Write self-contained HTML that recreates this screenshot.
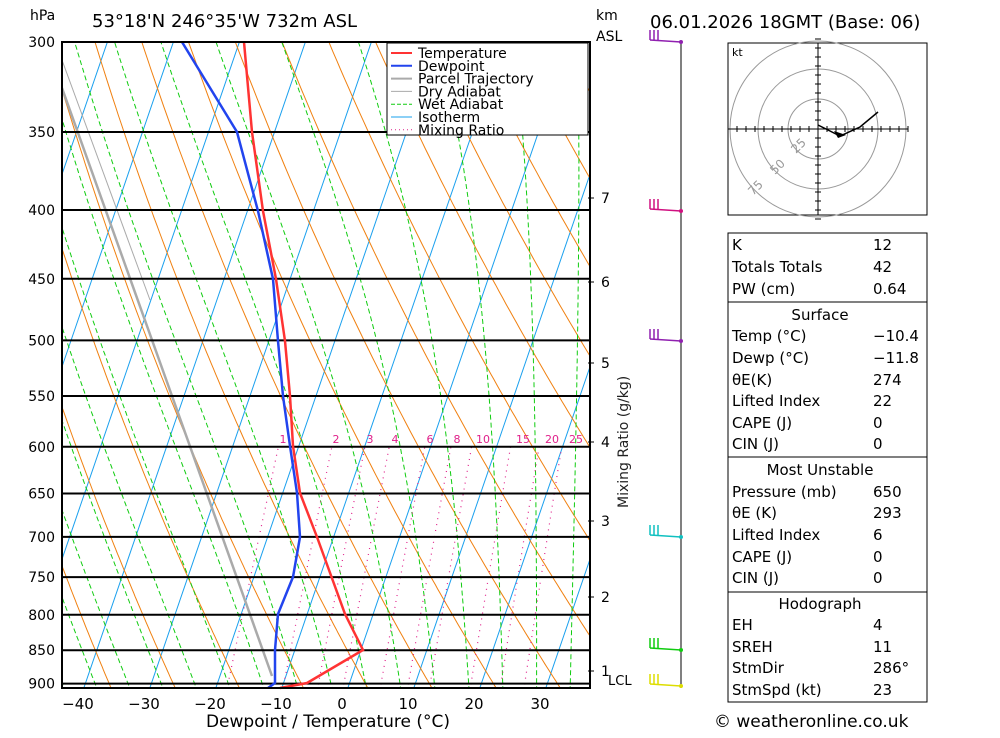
<!DOCTYPE html>
<html><head><meta charset="utf-8"><style>
body{margin:0;background:#fff;font-family:"Liberation Sans",sans-serif}
svg text{font-family:"DejaVu Sans","Liberation Sans",sans-serif}
</style></head><body>
<svg id="s" width="1000" height="733" xmlns="http://www.w3.org/2000/svg">
<defs><clipPath id="c"><rect x="62" y="42" width="528" height="646"/></clipPath></defs>
<g id="bg" clip-path="url(#c)"></g>
<g id="fg"></g>
</svg>
<script>
const NS="http://www.w3.org/2000/svg";
const bg=document.getElementById('bg'),fg=document.getElementById('fg');
function el(p,tag,a,t){const e=document.createElementNS(NS,tag);for(const k in a)e.setAttribute(k,a[k]);if(t!=null)e.textContent=t;p.appendChild(e);return e;}
const Y=p=>42+584*Math.log(p/300);
const X=(T,p)=>342+6.6*T+0.343*(705-Y(p));
function poly(g,pts,st){el(g,'polyline',Object.assign({points:pts.map(q=>q[0].toFixed(1)+','+q[1].toFixed(1)).join(' '),fill:'none'},st));}
const ps=[];for(let p=950;p>=290;p-=5)ps.push(p);
// isotherms
for(let T=-120;T<=50;T+=10)poly(bg,[[X(T,960),Y(960)],[X(T,280),Y(280)]],{stroke:'#1aa0ee','stroke-width':1});
// dry adiabats
for(let th=194;th<=500;th+=10){poly(bg,ps.map(p=>{const T=th*Math.pow(p/1000,0.286)-273.15;return[X(T,p),Y(p)]}),{stroke:'#f08010','stroke-width':1});}
// moist adiabats
function es(T){return 6.112*Math.exp(17.67*T/(T+243.5));}
for(let T0=-45;T0<=45;T0+=5){let T=T0+273.15,p=950;const pts=[];
 while(p>=290){pts.push([X(T-273.15,p),Y(p)]);const rs=0.622*es(T-273.15)/(p-es(T-273.15));
 const dTdp=(287*T+2.5e6*rs)/(1004+2.5e6*2.5e6*rs*0.622/(287*T*T))/p;T-=dTdp*2;p-=2;}
 poly(bg,pts,{stroke:'#10cc10','stroke-width':1,'stroke-dasharray':'5,3'});}
// mixing ratio
[1,2,3,4,6,8,10,15,20,25].forEach(w=>{const pts=[];for(let p=920;p>=600;p-=10){const e=w*p/(622+w);const l=Math.log(e/6.112);const T=243.5*l/(17.67-l);pts.push([X(T,p),Y(p)]);}
 poly(bg,pts,{stroke:'#e0208a','stroke-width':1.2,'stroke-dasharray':'1,5'});});
// isobars
[300,350,400,450,500,550,600,650,700,750,800,850,900].forEach(p=>{el(fg,'line',{x1:62,x2:590,y1:Y(p),y2:Y(p),stroke:'#000','stroke-width':2});
 el(fg,'text',{x:55,y:Y(p)+5,'text-anchor':'end','font-size':14},p);});
// parcel
poly(bg,[[272,676],[62,88]],{stroke:'#aaa','stroke-width':2.5});
poly(bg,[[62,60],[150,300]],{stroke:'#aaa','stroke-width':1});
// dewpoint & temp
poly(fg,[[268,688],[275,683],[275,650],[278,614],[293,577],[300,537],[297,493],[290,446],[283,396],[278,341],[273,279],[258,211],[237,132],[182,42]],{stroke:'#2244ee','stroke-width':2.5});
poly(fg,[[280,688],[307,683],[363,650],[345,614],[317,537],[300,493],[293,446],[290,396],[285,341],[276,279],[263,211],[252,132],[244,42]],{stroke:'#ff3333','stroke-width':2.5});
// mixing labels
[[1,283],[2,336],[3,370],[4,395],[6,430],[8,457],[10,483],[15,523],[20,552],[25,576]].forEach(a=>el(fg,'text',{x:a[1],y:443,'text-anchor':'middle','font-size':11,fill:'#e0208a'},a[0]));
// frame
el(fg,'rect',{x:62,y:42,width:528,height:646,fill:'none',stroke:'#000','stroke-width':2});
// x labels
for(let T=-40;T<=30;T+=10){el(fg,'text',{x:342+6.6*T,y:709,'text-anchor':'middle','font-size':15},(T<0?'\u2212'+(-T):T));}
el(fg,'text',{x:328,y:727,'text-anchor':'middle','font-size':17},'Dewpoint / Temperature (°C)');
el(fg,'text',{x:30,y:20,'font-size':14},'hPa');
el(fg,'text',{x:92,y:27,'font-size':18},'53°18\'N 246°35\'W 732m ASL');
el(fg,'text',{x:596,y:20,'font-size':14},'km');
el(fg,'text',{x:596,y:41,'font-size':14},'ASL');
el(fg,'text',{x:650,y:28,'font-size':18},'06.01.2026 18GMT (Base: 06)');
[[7,203],[6,287],[5,368],[4,447],[3,526],[2,602],[1,676]].forEach(a=>{el(fg,'text',{x:601,y:a[1],'font-size':14},a[0]);el(fg,'line',{x1:588,x2:594,y1:a[1]-5,y2:a[1]-5,stroke:'#000'});});
el(fg,'text',{x:608,y:685,'font-size':13},'LCL');
el(fg,'text',{x:0,y:0,'font-size':14,fill:'#222',transform:'translate(628,508) rotate(-90)'},'Mixing Ratio (g/kg)');
// legend
el(fg,'rect',{x:387,y:43,width:201,height:92,fill:'#fff',stroke:'#000'});
[['Temperature','#ff3333',2],['Dewpoint','#2244ee',2],['Parcel Trajectory','#aaa',2],['Dry Adiabat','#aaa',1],['Wet Adiabat','#10cc10',1],['Isotherm','#1aa0ee',1],['Mixing Ratio','#e0208a',1]].forEach((a,i)=>{const y=53+12.8*i;
 el(fg,'line',{x1:391,x2:412,y1:y,y2:y,stroke:a[1],'stroke-width':a[2],'stroke-dasharray':i==4?'4,2':(i==6?'1,3':'')});
 el(fg,'text',{x:418,y:y+5,'font-size':14},a[0]);});
// wind column
el(fg,'line',{x1:681,x2:681,y1:42,y2:688,stroke:'#000'});
[[42,'#9020b0'],[211,'#d01080'],[341,'#9020b0'],[537,'#10c0c0'],[650,'#10cc10'],[686,'#dddd00']].forEach(a=>{el(fg,'circle',{cx:681,cy:a[0],r:2,fill:a[1]});
 el(fg,'line',{x1:681,x2:650,y1:a[0],y2:a[0]-2,stroke:a[1],'stroke-width':1.5});
 for(let k=0;k<3;k++)el(fg,'line',{x1:650+k*4,x2:650+k*4,y1:a[0]-2,y2:a[0]-12,stroke:a[1],'stroke-width':1.5});});
// hodograph
el(fg,'rect',{x:728,y:43,width:199,height:172,fill:'#fff',stroke:'#000'});
[30,60,88].forEach(r=>el(fg,'circle',{cx:818,cy:129,r:r,fill:'none',stroke:'#999'}));
el(fg,'line',{x1:728,x2:908,y1:129,y2:129,stroke:'#000'});el(fg,'line',{x1:818,x2:818,y1:43,y2:215,stroke:'#000'});
for(let i=-10;i<=10;i++){el(fg,'line',{x1:818+i*9,x2:818+i*9,y1:126,y2:132,stroke:'#000'});el(fg,'line',{y1:129+i*9,y2:129+i*9,x1:815,x2:821,stroke:'#000'});}
el(fg,'text',{x:732,y:56,'font-size':11},'kt');
[['25',796,154],['50',775,175],['75',753,196]].forEach(a=>el(fg,'text',{x:a[1],y:a[2],'font-size':12,fill:'#999',transform:'rotate(-45 '+a[1]+' '+a[2]+')'},a[0]));
poly(fg,[[818,125],[828,130],[840,136],[860,127],[878,112]],{stroke:'#000','stroke-width':1.5});
el(fg,'polygon',{points:'834,131 846,135 838,138',fill:'#000'});
// table
el(fg,'rect',{x:728,y:233,width:199,height:469,fill:'#fff',stroke:'#000'});
[302,457,592].forEach(y=>el(fg,'line',{x1:728,x2:927,y1:y,y2:y,stroke:'#000'}));
el(fg,'line',{x1:728,x2:927,y1:592,y2:592,stroke:'#000'});
const rows=[[245,'K','12'],[267,'Totals Totals','42'],[289,'PW (cm)','0.64'],[315,'Surface',null],[336,'Temp (°C)','\u221210.4'],[358,'Dewp (°C)','\u221211.8'],[380,'θE(K)','274'],[401,'Lifted Index','22'],[423,'CAPE (J)','0'],[444,'CIN (J)','0'],
[470,'Most Unstable',null],[492,'Pressure (mb)','650'],[513,'θE (K)','293'],[535,'Lifted Index','6'],[557,'CAPE (J)','0'],[578,'CIN (J)','0'],[604,'Hodograph',null],[625,'EH','4'],[647,'SREH','11'],[668,'StmDir','286°'],[690,'StmSpd (kt)','23']];
rows.forEach(r=>{if(r[2]==null)el(fg,'text',{x:820,y:r[0]+5,'text-anchor':'middle','font-size':15},r[1]);else{el(fg,'text',{x:732,y:r[0]+5,'font-size':15},r[1]);el(fg,'text',{x:873,y:r[0]+5,'font-size':15},r[2]);}});
el(fg,'text',{x:714,y:727,'font-size':17},'© weatheronline.co.uk');
</script>
</body></html>
